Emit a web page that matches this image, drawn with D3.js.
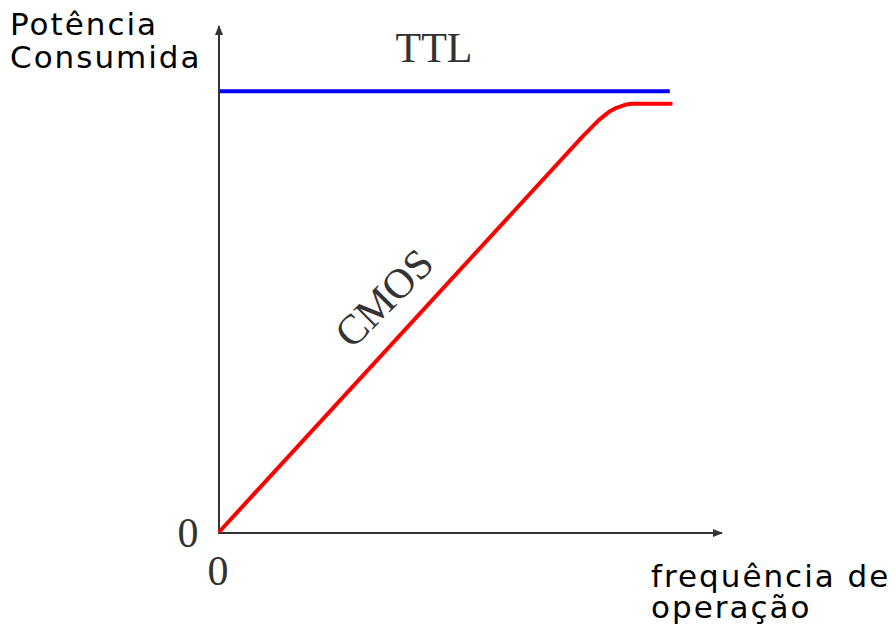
<!DOCTYPE html>
<html><head><meta charset="utf-8">
<script src="https://cdn.jsdelivr.net/npm/d3@7"></script>
<style>html,body{margin:0;padding:0;background:#fff;}svg{display:block;}</style>
</head><body>
<svg id="c" width="895" height="636"></svg>
<script>
// Data (arbitrary units, 0-100 on each axis)
const ttlX = [0, 89.6];
const ttlY = [87.1, 87.1];
const cmosX = [0, 72.3, 75.5, 77.5, 79.0, 80.7, 81.9, 89.8];
const cmosY = [0, 78.2, 81.4, 83.0, 83.8, 84.4, 84.6, 84.6];
const yAxisLabel = ["Potência", "Consumida"];
const xAxisLabel = ["frequência de", "operação"];
const seriesNames = ["TTL", "CMOS"];
const tickLabels = ["0", "0"];

const svg = d3.select("#c");
const x = d3.scaleLinear().domain([0, 100]).range([220, 722]);
const y = d3.scaleLinear().domain([0, 100]).range([531, 26]);

// axes
const axisColor = "#333";
const defs = svg.append("defs");
defs.append("marker").attr("id", "arr").attr("viewBox", "0 0 10 10")
  .attr("refX", 9).attr("refY", 5).attr("markerWidth", 12).attr("markerHeight", 10)
  .attr("markerUnits", "userSpaceOnUse").attr("orient", "auto")
  .append("path").attr("d", "M0,1 L10,5 L0,9 Z").attr("fill", axisColor);

svg.append("line").attr("x1", x(0) - 1).attr("y1", y(0) + 2).attr("x2", x(100)).attr("y2", y(0) + 2)
  .attr("stroke", axisColor).attr("stroke-width", 2).attr("marker-end", "url(#arr)");
svg.append("line").attr("x1", x(0) - 1).attr("y1", y(0) + 3).attr("x2", x(0) - 1).attr("y2", y(100))
  .attr("stroke", axisColor).attr("stroke-width", 2).attr("marker-end", "url(#arr)");

const line = d3.line().x(d => x(d[0])).y(d => y(d[1])).curve(d3.curveLinear);

svg.append("path").datum(d3.zip(ttlX, ttlY)).attr("d", line)
  .attr("fill", "none").attr("stroke", "#0000ff").attr("stroke-width", 4);
svg.append("path").datum(d3.zip(cmosX, cmosY)).attr("d", line)
  .attr("fill", "none").attr("stroke", "#ff0000").attr("stroke-width", 4)
  .attr("stroke-linejoin", "round").attr("stroke-linecap", "round");

// axis titles
const sans = "DejaVu Sans, Verdana, sans-serif";
const yl = svg.append("text").attr("font-family", sans).attr("font-size", 31)
  .attr("letter-spacing", 2).attr("fill", "#000");
yAxisLabel.forEach((t, i) => yl.append("tspan").attr("x", 10).attr("y", 35 + i * 33).text(t));
const xl = svg.append("text").attr("font-family", sans).attr("font-size", 31)
  .attr("letter-spacing", 2).attr("fill", "#000");
xAxisLabel.forEach((t, i) => xl.append("tspan").attr("x", 651).attr("y", 587 + i * 31).text(t));

// series labels
const serif = "Liberation Serif, Times New Roman, serif";
svg.append("text").attr("x", 434).attr("y", 62).attr("text-anchor", "middle")
  .attr("font-family", serif).attr("font-size", 42).attr("fill", "#333").text(seriesNames[0]);
svg.append("text").attr("transform", "translate(394,308) rotate(-45)").attr("text-anchor", "middle")
  .attr("font-family", serif).attr("font-size", 42).attr("fill", "#333").text(seriesNames[1]);

// zero labels
svg.append("text").attr("x", 188).attr("y", 547).attr("text-anchor", "middle")
  .attr("font-family", serif).attr("font-size", 42).attr("fill", "#333").text(tickLabels[0]);
svg.append("text").attr("x", 218).attr("y", 585).attr("text-anchor", "middle")
  .attr("font-family", serif).attr("font-size", 42).attr("fill", "#333").text(tickLabels[1]);
</script>
</body></html>
